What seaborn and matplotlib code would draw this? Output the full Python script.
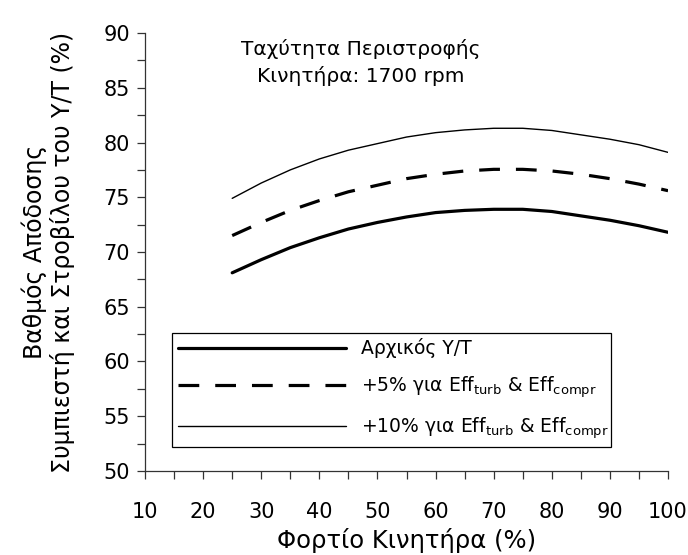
import numpy as np
import pandas as pd
import matplotlib
matplotlib.use("Agg")
import matplotlib.pyplot as plt
from matplotlib.ticker import MultipleLocator
import seaborn as sns

# engine load (%)
load = [25, 30, 35, 40, 45, 50, 55, 60, 65, 70, 75, 80, 85, 90, 95, 100]

# efficiency of compressor and turbine (%)
eff_base = [68.1, 69.3, 70.4, 71.3, 72.1, 72.7, 73.2, 73.6, 73.8, 73.9, 73.9, 73.7, 73.3, 72.9, 72.4, 71.8]
eff_plus5 = [71.5, 72.7, 73.8, 74.7, 75.5, 76.1, 76.7, 77.1, 77.4, 77.55, 77.55, 77.4, 77.1, 76.7, 76.2, 75.6]
eff_plus10 = [74.9, 76.3, 77.5, 78.5, 79.3, 79.9, 80.5, 80.9, 81.15, 81.3, 81.3, 81.1, 80.7, 80.3, 79.8, 79.1]

labels = ["Αρχικός Υ/Τ",
          r"+5% για Eff$_{\mathrm{turb}}$ & Eff$_{\mathrm{compr}}$",
          r"+10% για Eff$_{\mathrm{turb}}$ & Eff$_{\mathrm{compr}}$"]

sns.set_theme(style="ticks")
plt.rcParams['font.family'] = ['DejaVu Sans']
plt.rcParams['mathtext.fontset'] = 'dejavusans'
plt.rcParams['text.color'] = 'black'
plt.rcParams['axes.labelcolor'] = 'black'
plt.rcParams['xtick.labelcolor'] = 'black'
plt.rcParams['ytick.labelcolor'] = 'black'

fig = plt.figure(figsize=(6.88, 5.55), dpi=100)
ax = fig.add_axes([0.2108, 0.1514, 0.7602, 0.7891])

df = pd.DataFrame({"load": load, "base": eff_base, "p5": eff_plus5, "p10": eff_plus10})

sns.lineplot(data=df, x="load", y="base", ax=ax, color="black", linewidth=2.3, label=labels[0])
sns.lineplot(data=df, x="load", y="p5", ax=ax, color="black", linewidth=2.3, label=labels[1])
ax.lines[-1].set_dashes((6.5, 5))
sns.lineplot(data=df, x="load", y="p10", ax=ax, color="black", linewidth=1.0, label=labels[2])

ax.set_xlim(10, 100)
ax.set_ylim(50, 90)
ax.xaxis.set_major_locator(MultipleLocator(10))
ax.xaxis.set_minor_locator(MultipleLocator(5))
ax.yaxis.set_major_locator(MultipleLocator(5))
ax.yaxis.set_minor_locator(MultipleLocator(2.5))
ax.tick_params(which="both", direction="out", length=6, width=0.9, color="#333333")
ax.tick_params(which="major", labelsize=15, pad=5, labelcolor="black")
ax.tick_params(axis="x", which="major", pad=16)

for s in ["top", "right"]:
    ax.spines[s].set_visible(False)
for s in ["left", "bottom"]:
    ax.spines[s].set_color("#333333")
    ax.spines[s].set_linewidth(0.9)

ax.set_xlabel("Φορτίο Κινητήρα (%)", fontsize=17.5, labelpad=5, color="black")
ax.set_ylabel("Βαθμός Απόδοσης\nΣυμπιεστή και Στροβίλου του Υ/Τ (%)", fontsize=17,
              labelpad=20, linespacing=1.15, color="black")

ax.text(0.413, 0.933, "Ταχύτητα Περιστροφής\nΚινητήρα: 1700 rpm", transform=ax.transAxes,
        ha="center", va="center", fontsize=14.5, linespacing=1.4, color="black")

leg = ax.legend(loc="lower left", bbox_to_anchor=(0.0516, 0.0548, 0.8394, 0.26),
                mode="expand", fontsize=13.5, handlelength=9.0, handletextpad=0.8,
                labelspacing=0.85, borderpad=0.3, borderaxespad=0,
                frameon=True, fancybox=False, framealpha=1)
leg.get_frame().set_edgecolor("black")
leg.get_frame().set_linewidth(0.9)
for t in leg.get_texts():
    t.set_color("black")

fig.savefig("out.png", dpi=100)
